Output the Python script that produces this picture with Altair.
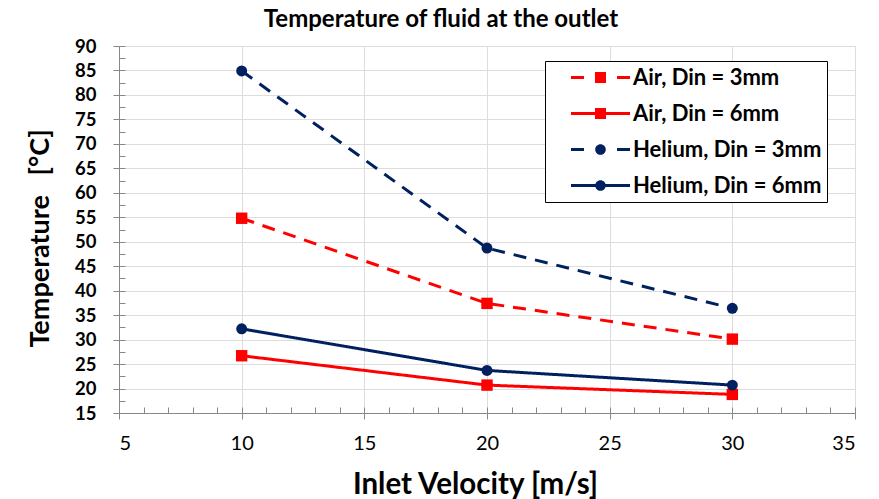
import altair as alt
import pandas as pd

# ---- data ----
velocity = [10, 20, 30]
series_names = ["Air, Din = 3mm", "Air, Din = 6mm", "Helium, Din = 3mm", "Helium, Din = 6mm"]
air_3mm = [54.8, 37.4, 30.1]
air_6mm = [26.7, 20.7, 18.8]
helium_3mm = [84.9, 48.7, 36.4]
helium_6mm = [32.2, 23.7, 20.7]
x_ticks = [5, 10, 15, 20, 25, 30, 35]
y_ticks = [15, 20, 25, 30, 35, 40, 45, 50, 55, 60, 65, 70, 75, 80, 85, 90]

rows = []
for name, gas, vals in [
    (series_names[0], "Air", air_3mm),
    (series_names[1], "Air", air_6mm),
    (series_names[2], "Helium", helium_3mm),
    (series_names[3], "Helium", helium_6mm),
]:
    for v, t in zip(velocity, vals):
        rows.append({"velocity": v, "temp": t, "series": name, "gas": gas})
df = pd.DataFrame(rows)

# ---- layout ----
W, H = 736, 367
FONT = "Lato"
RED = "#FF0000"
NAVY = "#002060"
colors = [RED, RED, NAVY, NAVY]
dashes = [[13, 9], [1, 0], [13, 9], [1, 0]]

# minor tick positions (axis styling)
x_minor = [5 + i for i in range(31)]
y_minor = [15 + 2.5 * i for i in range(31)]

# ---- legend glyphs (line + marker) as custom symbol paths ----
U = 6.0  # sqrt(symbolSize)/2


def f(v):
    return f"{v / U:.3f}"


def rect(x1, x2, h):
    return f"M{f(x1)},{f(-h)}H{f(x2)}V{f(h)}H{f(x1)}Z"


def circle(cx, r):
    return (f"M{f(cx - r)},0A{f(r)},{f(r)} 0 1,1 {f(cx + r)},0"
            f"A{f(r)},{f(r)} 0 1,1 {f(cx - r)},0Z")


L0 = 9.5
L1 = L0 + 59
MC = L0 + 29.5
sq = rect(MC - 5.5, MC + 5.5, 5.5)
path_air3 = rect(L0, L0 + 13, 1.5) + sq + rect(L1 - 13, L1, 1.5)
path_air6 = rect(L0, L1, 1.5) + sq
path_he3 = rect(L0, L0 + 13, 1.5) + circle(MC, 5.3) + rect(L1 - 13, L1, 1.5)
path_he6 = rect(L0, L1, 1.5) + circle(MC, 5.3)
legend_shapes = [path_air3, path_air6, path_he3, path_he6]

color_scale = alt.Scale(domain=series_names, range=colors)
xscale = alt.Scale(domain=[5, 35], nice=False, zero=False)
yscale = alt.Scale(domain=[15, 90], nice=False, zero=False)

main_x_axis = alt.Axis(values=x_ticks, title="Inlet Velocity [m/s]", grid=True,
                       labelFont=FONT, labelFontSize=20, labelFontWeight="normal",
                       labelColor="black", labelPadding=14, tickSize=6,
                       titleFont=FONT, titleFontSize=29.5, titleFontWeight="bold",
                       titleColor="black", titleX=356, titleY=71,
                       titleBaseline="middle", titleAlign="center")
main_y_axis = alt.Axis(values=y_ticks, title="Temperature\u00a0\u00a0 [°C]", grid=True,
                       labelFont=FONT, labelFontSize=18.5, labelFontWeight="bold",
                       labelColor="black", labelPadding=17, tickSize=6,
                       titleFont=FONT, titleFontSize=27, titleFontWeight="bold",
                       titleColor="black", titleX=-79, titleY=192, titleAngle=270,
                       titleBaseline="middle", titleAlign="center")
minor_x_axis = alt.Axis(orient="top", offset=-H, values=x_minor, labels=False,
                        domain=False, grid=False, title=None, tickSize=6)
minor_y_axis = alt.Axis(orient="right", offset=-W, values=y_minor, labels=False,
                        domain=False, grid=False, title=None, tickSize=6)

legend_props = dict(
    title=None, orient="none", legendX=426, legendY=15, padding=5.5,
    strokeColor="black", fillColor="white",
    labelFont=FONT, labelFontSize=22, labelFontWeight="bold", labelColor="black",
    labelLimit=400, labelOffset=60.5, symbolSize=144, symbolStrokeWidth=0,
    symbolOpacity=1, rowPadding=14,
    labelExpr="datum.label + '\u2007\u00a0'",
)

base = alt.Chart(df)

lines = base.mark_line(strokeWidth=3).encode(
    x=alt.X("velocity:Q", scale=xscale, axis=main_x_axis),
    y=alt.Y("temp:Q", scale=yscale, axis=main_y_axis),
    color=alt.Color("series:N", scale=color_scale, legend=None),
    strokeDash=alt.StrokeDash("series:N", scale=alt.Scale(domain=series_names, range=dashes), legend=None),
)

air_pts = base.transform_filter(alt.datum.gas == "Air").mark_point(
    shape="square", filled=True, size=130, opacity=1
).encode(
    x=alt.X("velocity:Q", scale=xscale, axis=minor_x_axis),
    y=alt.Y("temp:Q", scale=yscale, axis=minor_y_axis),
    color=alt.Color("series:N", scale=color_scale, legend=None),
)

he_pts = base.transform_filter(alt.datum.gas == "Helium").mark_point(
    shape="circle", filled=True, size=120, opacity=1
).encode(
    x=alt.X("velocity:Q", scale=xscale, axis=None),
    y=alt.Y("temp:Q", scale=yscale, axis=None),
    color=alt.Color("series:N", scale=color_scale, legend=None),
)

legend_layer = base.transform_filter(alt.datum.velocity < 0).mark_point(
    filled=True, opacity=1
).encode(
    x=alt.X("velocity:Q", scale=xscale, axis=None),
    y=alt.Y("temp:Q", scale=yscale, axis=None),
    color=alt.Color("series:N", scale=color_scale, legend=alt.Legend(**legend_props)),
    shape=alt.Shape("series:N", scale=alt.Scale(domain=series_names, range=legend_shapes),
                    legend=alt.Legend(**legend_props)),
)

chart = alt.layer(lines, air_pts, he_pts, legend_layer).resolve_axis(
    x="independent", y="independent"
).resolve_legend(
    color="independent", shape="independent", strokeDash="independent"
).properties(
    width=W, height=H,
    title=alt.TitleParams("Temperature of fluid at the outlet", font=FONT, fontSize=24,
                          fontWeight="bold", color="black", anchor="middle",
                          dx=-46, dy=32, offset=18, baseline="alphabetic"),
    autosize=alt.AutoSizeParams(type="none"),
    padding={"left": 119, "top": 46, "right": 24, "bottom": 86},
).configure_view(
    stroke="black", strokeWidth=2
).configure_axis(
    domainColor="black", domainWidth=2, tickColor="black", tickWidth=2,
    gridColor="#D9D9D9", gridWidth=1,
).configure_legend(
    strokeWidth=2,
).configure(background="white")

chart.save("out.html", embed_options={"renderer": "svg", "actions": False})
